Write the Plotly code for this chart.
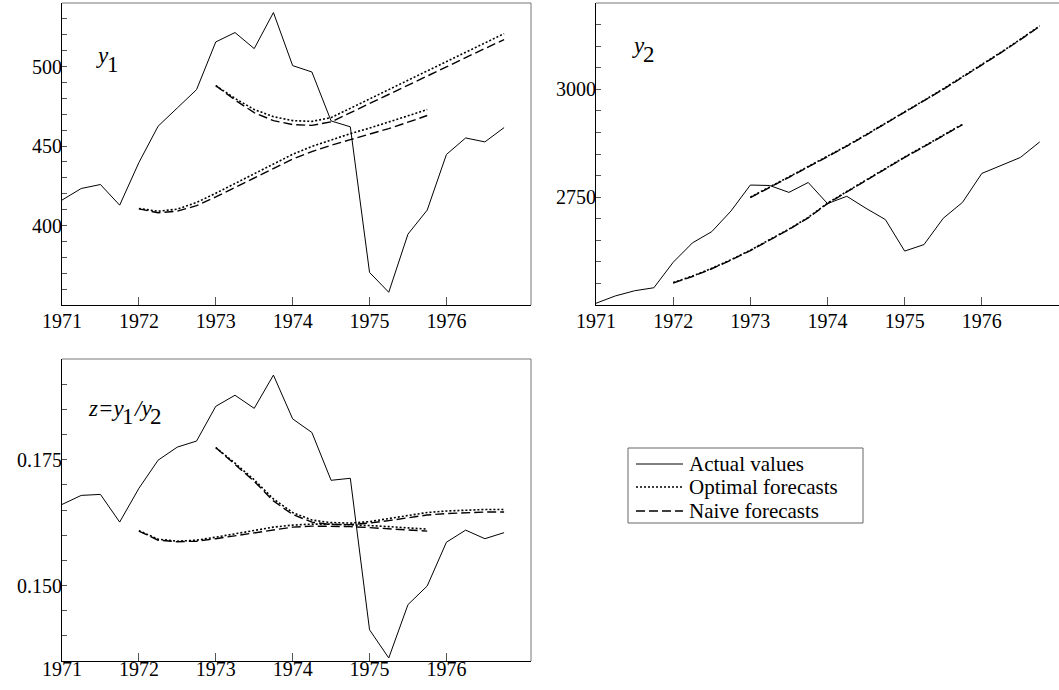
import plotly.graph_objects as go

# ---------------- data ----------------
quarters = [1971.0, 1971.25, 1971.5, 1971.75, 1972.0, 1972.25, 1972.5, 1972.75,
            1973.0, 1973.25, 1973.5, 1973.75, 1974.0, 1974.25, 1974.5, 1974.75,
            1975.0, 1975.25, 1975.5, 1975.75, 1976.0, 1976.25, 1976.5, 1976.75]
fc1_x = quarters[4:20]   # forecasts made from 1971Q4: 1972.0 .. 1975.75
fc2_x = quarters[8:24]   # forecasts made from 1972Q4: 1973.0 .. 1976.75

y1_actual = [416.0, 423.3, 425.8, 412.8, 439.6, 462.5, 474.0, 485.5,
             515.5, 521.4, 511.3, 534.0, 500.6, 496.6, 465.8, 462.1,
             370.5, 358.0, 394.6, 409.7, 444.7, 455.1, 452.6, 461.6]
y1_opt1 = [410.7, 409.0, 410.3, 414.5, 420.3, 426.5, 432.5, 438.8,
           444.8, 449.8, 454.0, 457.8, 461.3, 465.0, 469.0, 473.0]
y1_naive1 = [410.5, 408.0, 409.0, 412.5, 418.0, 424.0, 430.0, 436.0,
             441.8, 446.5, 450.5, 454.0, 457.5, 461.0, 465.0, 469.2]
y1_opt2 = [488.0, 480.0, 473.0, 468.5, 466.0, 465.5, 467.9, 473.6,
           479.7, 485.5, 491.4, 497.3, 503.1, 509.0, 514.9, 520.7]
y1_naive2 = [488.0, 479.0, 471.0, 466.0, 463.5, 463.0, 465.2, 470.9,
             476.7, 482.4, 488.3, 493.9, 499.8, 505.7, 511.3, 517.0]

y2_actual = [2504, 2521, 2533, 2540, 2599, 2644, 2670, 2718,
             2778, 2777, 2761, 2784, 2735, 2752, 2724, 2698,
             2625, 2640, 2701, 2738, 2805, 2824, 2842, 2878]
y2_opt1 = [2552, 2567, 2585, 2605, 2627, 2651, 2676, 2703,
           2736, 2763, 2790, 2816, 2843, 2868, 2894, 2919]
y2_naive1 = [2551, 2566, 2584, 2604, 2626, 2650, 2675, 2702,
             2735, 2762, 2789, 2815, 2842, 2867, 2893, 2918]
y2_opt2 = [2750, 2773, 2797, 2821, 2845, 2869, 2895, 2921,
           2947, 2974, 3001, 3029, 3057, 3086, 3116, 3147]
y2_naive2 = [2749, 2772, 2796, 2820, 2844, 2868, 2894, 2920,
             2946, 2973, 3000, 3028, 3056, 3085, 3115, 3146]

z_actual = [0.1661, 0.1679, 0.1681, 0.1626, 0.1693, 0.1749, 0.1775, 0.1787,
            0.1856, 0.1878, 0.1852, 0.1918, 0.1831, 0.1804, 0.1709, 0.1713,
            0.1412, 0.1356, 0.1462, 0.1499, 0.1586, 0.1610, 0.1593, 0.1605]
z_opt1 = [0.1609, 0.1592, 0.1588, 0.1590, 0.1596, 0.1603, 0.1610, 0.1616,
          0.1620, 0.1622, 0.1622, 0.1621, 0.1619, 0.1617, 0.1614, 0.1612]
z_naive1 = [0.1608, 0.1590, 0.1587, 0.1588, 0.1593, 0.1599, 0.1605, 0.1611,
            0.1616, 0.1618, 0.1618, 0.1617, 0.1615, 0.1613, 0.1610, 0.1608]
z_opt2 = [0.1774, 0.1743, 0.1710, 0.1672, 0.1645, 0.1630, 0.1625, 0.1624,
          0.1627, 0.1633, 0.1640, 0.1645, 0.1648, 0.1650, 0.1651, 0.1651]
z_naive2 = [0.1774, 0.1741, 0.1707, 0.1668, 0.1641, 0.1626, 0.1621, 0.1621,
            0.1624, 0.1629, 0.1635, 0.1640, 0.1643, 0.1645, 0.1646, 0.1646]

year_ticks = [1971, 1972, 1973, 1974, 1975, 1976]
y1_ticks = [400, 450, 500]
y2_ticks = [2750, 3000]
z_ticks = [0.150, 0.175]
y1_minor = [360, 370, 380, 390, 400, 410, 420, 430, 440, 450, 460, 470, 480, 490, 500, 510, 520, 530]
y2_minor = [2550, 2600, 2650, 2700, 2750, 2800, 2850, 2900, 2950, 3000, 3050, 3100, 3150]
z_minor = [0.140, 0.145, 0.150, 0.155, 0.160, 0.165, 0.170, 0.175, 0.180, 0.185, 0.190]

legend_names = ["Actual values", "Optimal forecasts", "Naive forecasts"]

# ---------------- figure ----------------
W, H = 1059, 690
FONT = "Liberation Serif, Times New Roman, serif"
fig = go.Figure()

solid = dict(color="black", width=1)
dotted = dict(color="black", width=1.6, dash="2px,2px")
dashed = dict(color="black", width=1.4, dash="9px,4px")
styles = [solid, dotted, dashed]

panels = [
    ("x", "y", y1_actual, [y1_opt1, y1_opt2], [y1_naive1, y1_naive2]),
    ("x2", "y2", y2_actual, [y2_opt1, y2_opt2], [y2_naive1, y2_naive2]),
    ("x3", "y3", z_actual, [z_opt1, z_opt2], [z_naive1, z_naive2]),
]
for xa, ya, act, opts, naives in panels:
    fig.add_trace(go.Scatter(x=quarters, y=act, mode="lines", line=solid,
                             xaxis=xa, yaxis=ya, name=legend_names[0]))
    for o, fx in zip(opts, [fc1_x, fc2_x]):
        fig.add_trace(go.Scatter(x=fx, y=o, mode="lines", line=dotted,
                                 xaxis=xa, yaxis=ya, name=legend_names[1]))
    for n, fx in zip(naives, [fc1_x, fc2_x]):
        fig.add_trace(go.Scatter(x=fx, y=n, mode="lines", line=dashed,
                                 xaxis=xa, yaxis=ya, name=legend_names[2]))


def px_x(a, b):
    return [a / W, b / W]


def px_y(top, bottom):
    return [1 - bottom / H, 1 - top / H]


tickfont = dict(family=FONT, size=20, color="black")
common_x = dict(showline=True, linecolor="black", linewidth=1, mirror=False,
                ticks="inside", ticklen=8, tickcolor="#555", tickwidth=1,
                tickvals=year_ticks, showgrid=False, zeroline=False,
                tickfont=tickfont, automargin=False)
common_y = dict(showline=True, linecolor="black", linewidth=1, mirror=False,
                ticks="inside", ticklen=5, tickcolor="#555", tickwidth=1,
                showgrid=False, zeroline=False, tickfont=tickfont, automargin=False,
                ticklabelstandoff=-5)

fig.update_layout(
    width=W, height=H,
    margin=dict(l=0, r=0, t=0, b=0),
    paper_bgcolor="white", plot_bgcolor="white",
    font=dict(family=FONT, size=20, color="black"),
    showlegend=False,
    xaxis=dict(common_x, domain=px_x(62, 531), range=[1971, 1977.1], anchor="y",
               ticklabelstandoff=-2),
    yaxis=dict(common_y, domain=px_y(3, 305), range=[350, 540], anchor="x",
               tickvals=y1_ticks,
               minor=dict(tickmode="array", tickvals=y1_minor, ticks="inside",
                          ticklen=5, tickcolor="#555", showgrid=False)),
    xaxis2=dict(common_x, domain=px_x(596, 1059), range=[1971, 1977.0], anchor="y2",
                ticklabelstandoff=-2),
    yaxis2=dict(common_y, domain=px_y(3, 305), range=[2500, 3200], anchor="x2",
                tickvals=y2_ticks,
                minor=dict(tickmode="array", tickvals=y2_minor, ticks="inside",
                           ticklen=5, tickcolor="#555", showgrid=False)),
    xaxis3=dict(common_x, domain=px_x(62, 531), range=[1971, 1977.1], anchor="y3",
                ticklabelstandoff=-10),
    yaxis3=dict(common_y, domain=px_y(359, 661), range=[0.135, 0.195], anchor="x3",
                tickvals=z_ticks, tickformat=".3f",
                minor=dict(tickmode="array", tickvals=z_minor, ticks="inside",
                           ticklen=5, tickcolor="#555", showgrid=False)),
)

# gray top / right frame lines
frame = dict(color="#777", width=1)
for xa, ya, right in [("x", "y", True), ("x2", "y2", False), ("x3", "y3", True)]:
    fig.add_shape(type="line", xref=f"{xa} domain", yref=f"{ya} domain",
                  x0=0, x1=1, y0=1, y1=1, line=frame, layer="below")
    if right:
        fig.add_shape(type="line", xref=f"{xa} domain", yref=f"{ya} domain",
                      x0=1, x1=1, y0=0, y1=1, line=frame, layer="below")


def label(text, x, y_bottom, size, italic=False, yanchor="bottom"):
    fig.add_annotation(text=f"<i>{text}</i>" if italic else text,
                       xref="paper", yref="paper", x=x / W, y=1 - y_bottom / H,
                       xanchor="left", yanchor=yanchor, showarrow=False,
                       font=dict(family=FONT, size=size, color="black"),
                       borderpad=0, borderwidth=0)


# panel labels (pieces placed in pixels so that subscripts stay full size)
LS = 23
label("y", 96, 68, LS, italic=True)
label("1", 107, 77, LS)
label("y", 632, 58, LS, italic=True)
label("2", 643, 67, LS)
label("z=y", 88, 421, LS, italic=True)
label("1", 122, 429, LS)
label("/y", 133, 421, LS, italic=True)
label("2", 150, 429, LS)

# legend drawn by hand to match the compact reference box
fig.add_shape(type="rect", xref="paper", yref="paper",
              x0=628 / W, x1=863 / W, y0=1 - 523 / H, y1=1 - 448 / H,
              line=dict(color="#666", width=1), fillcolor="white")
leg_rows = [464, 487, 511]
for name, st, yy in zip(legend_names, styles, leg_rows):
    fig.add_shape(type="line", xref="paper", yref="paper",
                  x0=636 / W, x1=683 / W, y0=1 - yy / H, y1=1 - yy / H,
                  line=st)
    label(name, 689, yy, 21, yanchor="middle")

fig.write_html("out.html", config={"displayModeBar": False},
               post_script="document.body.style.margin='0';document.body.style.padding='0';")
